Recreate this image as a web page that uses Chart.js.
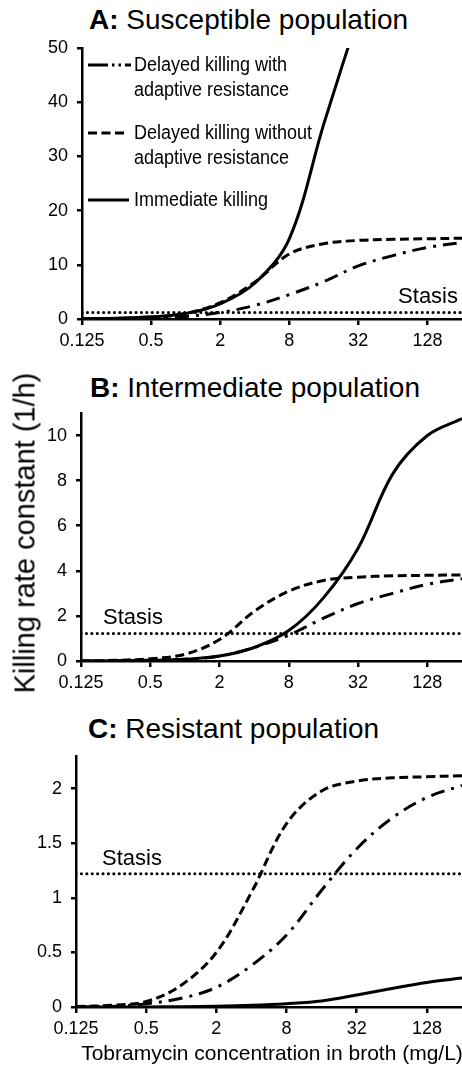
<!DOCTYPE html>
<html>
<head>
<meta charset="utf-8">
<script src="https://cdn.jsdelivr.net/npm/chart.js@4.4.1/dist/chart.umd.min.js"></script>
<style>
  body { margin: 0; background: #fff; color: #000; font-family: "Liberation Sans", Arial, sans-serif; }
  #page { position: relative; width: 462px; height: 1065px; overflow: hidden; }
  canvas { position: absolute; left: 0; }
  .title { position: absolute; font-size: 28px; line-height: 28px; white-space: nowrap; }
  .leg { position: absolute; font-size: 20px; line-height: 25px; white-space: nowrap; }
  .leg span { display: inline-block; transform: scaleX(0.9); transform-origin: left center; }
  .leg svg { position: absolute; left: -46px; top: 0; overflow: visible; }
  #ylab { position: absolute; left: 25px; top: 533px; font-size: 29px; line-height: 29px; white-space: nowrap;
          transform: translate(-50%, -50%) rotate(-90deg); }
  #xlab { position: absolute; left: 272px; top: 1042px; font-size: 21px; line-height: 21px; white-space: nowrap;
          transform: translateX(-50%); }
</style>
</head>
<body>
<div id="page">
  <div class="title" style="left:89px;top:6px"><b>A:</b> Susceptible population</div>
  <div class="title" style="left:90px;top:374px"><b>B:</b> Intermediate population</div>
  <div class="title" style="left:88px;top:715px"><b>C:</b> Resistant population</div>

  <canvas id="chartA" width="462" height="340" style="top:28px"></canvas>
  <canvas id="chartB" width="462" height="317" style="top:393px"></canvas>
  <canvas id="chartC" width="462" height="320" style="top:736px"></canvas>

  <div class="leg" style="left:134px;top:52px">
    <svg width="46" height="25"><line x1="0" y1="13" x2="43" y2="13" stroke="#000" stroke-width="3" stroke-dasharray="20 4 2.5 4 2.5 4 20"/></svg>
    <span>Delayed killing with<br>adaptive resistance</span>
  </div>
  <div class="leg" style="left:134px;top:120px">
    <svg width="46" height="25"><line x1="0" y1="13" x2="37" y2="13" stroke="#000" stroke-width="3" stroke-dasharray="9 4.5"/></svg>
    <span>Delayed killing without<br>adaptive resistance</span>
  </div>
  <div class="leg" style="left:134px;top:187px">
    <svg width="46" height="25"><line x1="0" y1="13" x2="41" y2="13" stroke="#000" stroke-width="3"/></svg>
    <span>Immediate killing</span>
  </div>

  <div id="ylab">Killing rate constant (1/h)</div>
  <div id="xlab">Tobramycin concentration in broth (mg/L)</div>
</div>

<script>
// concentrations (mg/L), log2 axis
const conc = [0.125, 0.25, 0.5, 1, 2, 4, 8, 16, 32, 64, 128, 256];
const xTicks = [0.125, 0.5, 2, 8, 32, 128];
const stasis = 1.22;

// A: susceptible
const aAdaptive   = [0.0, 0.03, 0.12, 0.45, 1.2, 2.5, 4.5, 6.9, 9.8, 11.7, 13.2, 14.1];
const aNoAdaptive = [0.02, 0.08, 0.3, 1.0, 3.0, 6.8, 12.0, 13.9, 14.5, 14.7, 14.8, 14.9];
const aImmediate  = [0.05, 0.15, 0.4, 1.0, 2.8, 6.6, 14.8, 36, 56, null, null, null];
const aYTicks = [0, 10, 20, 30, 40, 50];

// B: intermediate
const bAdaptive   = [0.0, 0.01, 0.03, 0.08, 0.22, 0.6, 1.15, 1.9, 2.55, 3.0, 3.4, 3.65];
const bNoAdaptive = [0.0, 0.03, 0.1, 0.3, 0.95, 2.2, 3.1, 3.57, 3.72, 3.78, 3.8, 3.82];
const bImmediate  = [0.0, 0.01, 0.03, 0.08, 0.22, 0.6, 1.35, 2.8, 5.0, 8.3, 10.0, 10.75];
const bYTicks = [0, 2, 4, 6, 8, 10];

// C: resistant
const cAdaptive   = [0.0, 0.005, 0.03, 0.08, 0.18, 0.38, 0.66, 1.07, 1.45, 1.73, 1.92, 2.03];
const cNoAdaptive = [0.005, 0.015, 0.05, 0.2, 0.5, 1.05, 1.68, 1.98, 2.07, 2.1, 2.11, 2.12];
const cImmediate  = [0, 0, 0.001, 0.003, 0.007, 0.015, 0.03, 0.055, 0.11, 0.17, 0.225, 0.265];
const cYTicks = [0, 0.5, 1, 1.5, 2];

const FONT = '"Liberation Sans", Arial, sans-serif';
const DASH = [9, 4.5];
const DASHDOT = [14, 7, 3, 7];

function curve(values, dash) {
  return {
    data: conc.map((x, i) => ({ x: x, y: values[i] })),
    borderColor: '#000',
    borderWidth: 3,
    borderDash: dash,
    pointRadius: 0,
    fill: false,
    tension: 0.35,
    spanGaps: false
  };
}

function stasisLine() {
  return {
    data: [{ x: conc[0], y: stasis }, { x: conc[conc.length - 1], y: stasis }],
    borderColor: '#000',
    borderWidth: 3,
    borderDash: [0.1, 5.3],
    borderCapStyle: 'round',
    pointRadius: 0,
    fill: false
  };
}

// "Stasis" text just above the dotted line
const stasisLabel = {
  id: 'stasisLabel',
  afterDatasetsDraw(chart, args, opts) {
    const { ctx, chartArea, scales } = chart;
    const y = scales.y.getPixelForValue(stasis) - 9;
    ctx.save();
    ctx.font = '22px ' + FONT;
    ctx.fillStyle = '#000';
    ctx.textBaseline = 'alphabetic';
    if (opts.align === 'right') {
      ctx.textAlign = 'right';
      ctx.fillText('Stasis', chartArea.right - 4, y);
    } else {
      ctx.textAlign = 'left';
      ctx.fillText('Stasis', chartArea.left + opts.offset, y);
    }
    ctx.restore();
  }
};

function makePanel(id, series, yMax, yTicks, plotLeft, label) {
  const axisH = 49;
  new Chart(document.getElementById(id), {
    type: 'line',
    data: {
      datasets: [
        curve(series[0], DASHDOT),
        curve(series[1], DASH),
        curve(series[2], []),
        stasisLine()
      ]
    },
    options: {
      responsive: false,
      animation: false,
      devicePixelRatio: 1,
      layout: { padding: { top: 20, right: 0, bottom: 0, left: 0 } },
      plugins: {
        legend: { display: false },
        tooltip: { enabled: false },
        stasisLabel: label
      },
      scales: {
        x: {
          type: 'logarithmic',
          min: 0.125,
          max: 256,
          afterBuildTicks: (s) => { s.ticks = xTicks.map((v) => ({ value: v })); },
          afterFit: (s) => { s.height = axisH; },
          ticks: {
            callback: (v) => String(v),
            color: '#000',
            font: { size: 18, family: FONT },
            padding: 5,
            maxRotation: 0,
            autoSkip: false
          },
          grid: { drawOnChartArea: false, drawTicks: true, tickLength: 6, color: '#000', lineWidth: 2.5 },
          border: { color: '#000', width: 2.5 }
        },
        y: {
          min: 0,
          max: yMax,
          afterBuildTicks: (s) => { s.ticks = yTicks.map((v) => ({ value: v })); },
          afterFit: (s) => { s.width = plotLeft; },
          ticks: {
            callback: (v) => String(v),
            color: '#000',
            font: { size: 18, family: FONT },
            padding: 9
          },
          grid: { drawOnChartArea: false, drawTicks: true, tickLength: 5, color: '#000', lineWidth: 2.5 },
          border: { color: '#000', width: 2.5 }
        }
      }
    },
    plugins: [stasisLabel]
  });
}

makePanel('chartA', [aAdaptive, aNoAdaptive, aImmediate], 50, aYTicks, 82, { align: 'right' });
makePanel('chartB', [bAdaptive, bNoAdaptive, bImmediate], 11, bYTicks, 81, { align: 'left', offset: 22 });
makePanel('chartC', [cAdaptive, cNoAdaptive, cImmediate], 2.3, cYTicks, 76, { align: 'left', offset: 26 });
</script>
</body>
</html>
